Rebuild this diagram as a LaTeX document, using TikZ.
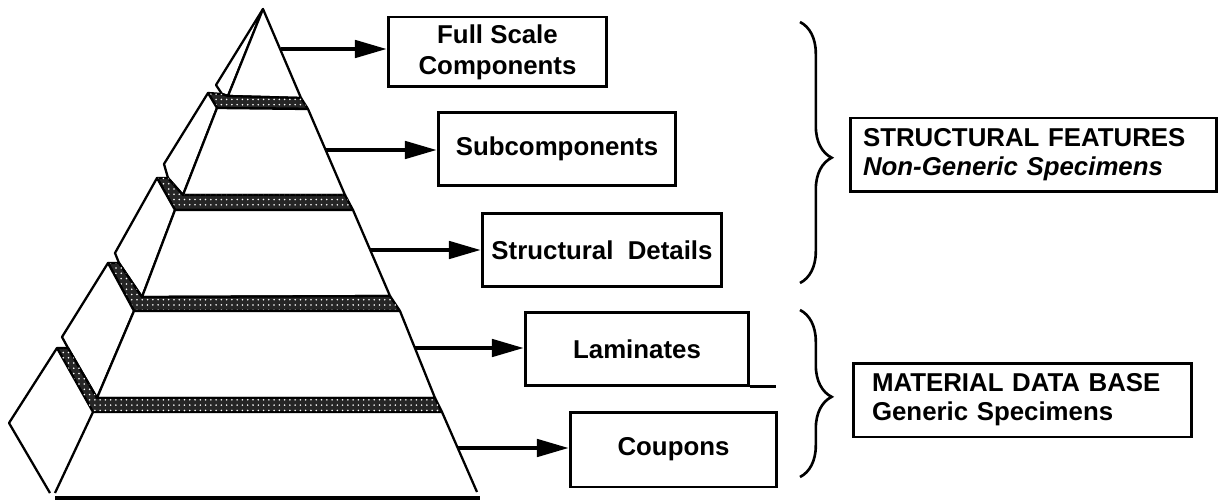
\documentclass[tikz,border=0pt]{standalone}
\usepackage{fontspec}
\setmainfont{Liberation Sans}
\usetikzlibrary{arrows.meta,patterns,decorations.pathreplacing}

\begin{document}
\begin{tikzpicture}[x=0.02cm,y=-0.02cm,
  face/.style={draw, fill=white, line width=1.3pt, line join=round},
  ledge/.style={draw, line width=1.3pt, line join=round, fill=black!85,
    postaction={pattern=dots, pattern color=white}},
  box/.style={draw, rectangle, line width=1.7pt, align=center, minimum height=1.45cm,
    font=\bfseries\fontsize{14.7}{17.6}\selectfont},
  grp/.style={draw, rectangle, line width=1.7pt, align=left, minimum height=1.48cm,
    font=\bfseries\fontsize{14.7}{16.5}\selectfont},
  arr/.style={-{Triangle[length=18pt,width=10pt]}, line width=1.8pt},
  brc/.style={decorate, decoration={brace, amplitude=18pt, aspect=0.52}, line width=1.5pt}]
\useasboundingbox (0,0) rectangle (1225,500);

% pyramid, top tier down to the base
\draw[face] (263,9) -- (216,85) -- (222,94) -- (228,96) -- cycle;
\draw[face] (263,9) -- (301,98) -- (228,96) -- cycle;
\draw[ledge] (208,93) -- (222,94) -- (228,96) -- (301,98) -- (308,109) -- (217,108) -- cycle;

\draw[face] (208,93) -- (164,164) -- (168,178) -- (183,195) -- (217,108) -- cycle;
\draw[face] (217,108) -- (308,109) -- (345,195) -- (183,195) -- cycle;
\draw[ledge] (157,178) -- (168,178) -- (183,195) -- (345,195) -- (353,210) -- (175,210) -- cycle;

\draw[face] (157,178) -- (115,253) -- (119,263) -- (142,297) -- (175,210) -- cycle;
\draw[face] (175,210) -- (353,210) -- (390,296) -- (142,297) -- cycle;
\draw[ledge] (108,263) -- (119,263) -- (142,297) -- (390,296) -- (400,311) -- (134,311) -- cycle;

\draw[face] (108,263) -- (62,337) -- (68,348) -- (97,398) -- (134,311) -- cycle;
\draw[face] (134,311) -- (400,311) -- (435,398) -- (97,398) -- cycle;
\draw[ledge] (57,348) -- (68,348) -- (97,398) -- (435,398) -- (442,412) -- (93,412) -- cycle;

\draw[face] (50,493) -- (9,423) -- (57,348);
\draw[face] (55,493) -- (93,412);
\draw[face] (442,412) -- (477,492);
\draw[line width=1.8pt] (55,498) -- (480,498);

% arrow starts on the pyramid
\coordinate (p1) at (281,49);
\coordinate (p2) at (326,150);
\coordinate (p3) at (370,250);
\coordinate (p4) at (415,348);
\coordinate (p5) at (458,448);

% test levels
\node[box, minimum width=4.38cm, minimum height=1.4cm] (full) at (497.5,52) {Full Scale\\Components};
\node[box, minimum width=4.76cm] (sub) at (557,149) {Subcomponents};
\node[box, minimum width=4.8cm] (detail) at (602,250) {Structural\ \ Details};
\node[box, minimum width=4.48cm] (lam) at (637,349) {Laminates};
\node[box, minimum width=4.14cm, minimum height=1.5cm] (coup) at (673.5,449.5) {Coupons};

\draw[arr] (p1) -- (p1 -| full.west);
\draw[arr] (p2) -- (p2 -| sub.west);
\draw[arr] (p3) -- (p3 -| detail.west);
\draw[arr] (p4) -- (p4 -| lam.west);
\draw[arr] (p5) -- (p5 -| coup.west);
\draw[line width=1.7pt] (lam.south east) -- ++(26,0);

% groups
\draw[brc] (800,22) -- (800,283);
\draw[brc] (800,310) -- (800,477);
\node[grp, text width=6.82cm, inner xsep=0.26cm] (feat) at (1033.5,155)
{STRUCTURAL FEATURES\\\textit{Non-Generic Specimens}};
\node[grp, text width=6.02cm, inner xsep=0.38cm] (mat) at (1022.5,400)
{MATERIAL DATA BASE\\Generic Specimens};
\end{tikzpicture}
\end{document}
